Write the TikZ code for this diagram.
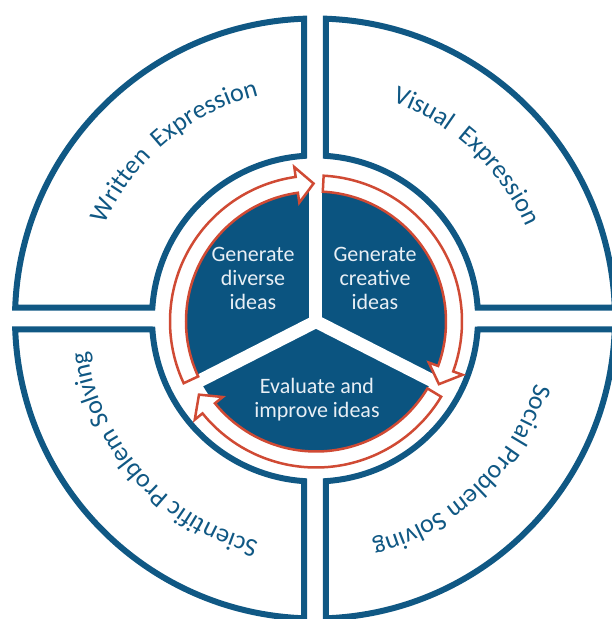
\documentclass[tikz,border=0pt]{standalone}
\usepackage{fontspec}
\setmainfont{Carlito}
\usepackage{xcolor}
\usetikzlibrary{decorations.text}
\definecolor{ringblue}{RGB}{16,88,132}
\definecolor{pieblue}{RGB}{11,84,128}
\definecolor{cyclered}{RGB}{208,74,52}
\definecolor{pietext}{RGB}{232,239,245}
\newcommand{\quadfont}{\fontsize{26}{30}\selectfont}

\begin{document}
\begin{tikzpicture}[x=1pt,y=1pt,
  quadrant/.style={draw=ringblue,line width=6pt,fill=white},
  arrowband/.style={draw=cyclered,line width=2.5pt,fill=white},
  piegap/.style={white,line width=13pt,line cap=round},
  stage/.style={text=pietext,align=center,font=\fontsize{22}{24}\selectfont}]
\useasboundingbox (-315,-300.5) rectangle (296,318.5);
% outer ring
\foreach \r in {0,90,180,270}
  \draw[quadrant,rotate=\r] (2.1:300) arc[start angle=2.1,end angle=87.9,radius=300]
    -- (86.13:163) arc[start angle=86.13,end angle=3.87,radius=163] -- cycle;
\path[decorate,decoration={text along path,text align=center,text color=ringblue,
  text={|\quadfont|Written{\ }{\ }Expression}}] (175:230) arc[start angle=175,end angle=85,radius=230];
\path[decorate,decoration={text along path,text align=center,text color=ringblue,
  text={|\quadfont|Visual{\ }{\ }Expression}}] (92:230) arc[start angle=92,end angle=2,radius=230];
\path[decorate,decoration={text along path,text align=center,text color=ringblue,
  text={|\quadfont|Social Problem Solving}}] (-1:230) arc[start angle=-1,end angle=-91,radius=230];
\path[decorate,decoration={text along path,text align=center,text color=ringblue,
  text={|\quadfont|Scientific Problem Solving}}] (-93:230) arc[start angle=-93,end angle=-183,radius=230];
% inner cycle
\begin{scope}[shift={(1,-3)}]
\fill[pieblue] (0,0) circle[radius=130];
\foreach \a in {90,-27,207}
  \draw[piegap] (0,0) -- (\a:131);
\foreach \s/\e in {205/91,87/-27,-31/-148}
  \draw[arrowband] (\s:146) arc[start angle=\s,end angle=\e+7,radius=146]
    -- (\e+7:156) -- (\e:138) -- (\e+7:120) -- (\e+7:130)
    arc[start angle=\e+7,end angle=\s,radius=130] -- cycle;
\node[stage] (diverse) at (-63,43.5) {Generate\\diverse\\ideas};
\node[stage] (creative) at (59,43.5) {Generate\\creative\\ideas};
\node[stage] (evaluate) at (1,-78.5) {Evaluate and\\improve ideas};
\end{scope}
\end{tikzpicture}
\end{document}
